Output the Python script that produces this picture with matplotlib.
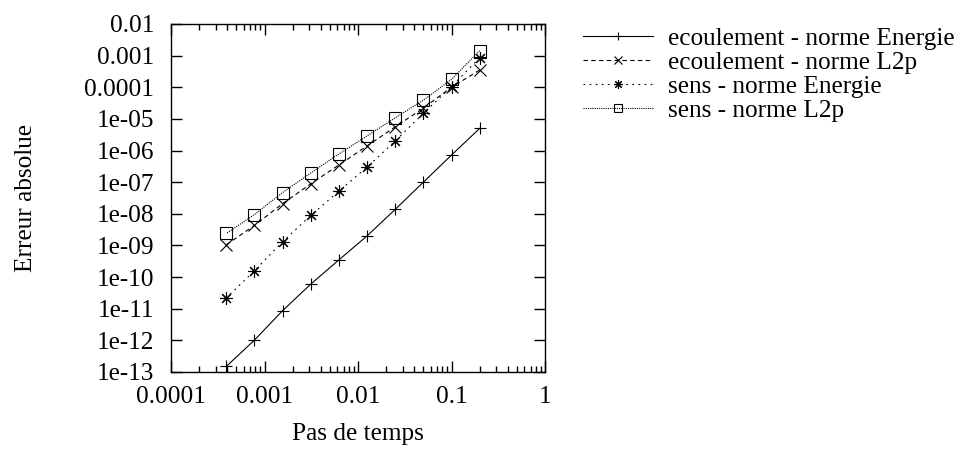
import matplotlib
matplotlib.use('Agg')
import matplotlib.pyplot as plt
from matplotlib.ticker import LogLocator, NullLocator, FixedLocator

# Data
pas = [0.2, 0.1, 0.05, 0.025, 0.0125, 0.00625, 0.003125, 0.0015625,
       0.00078125, 0.000390625]
ecoulement_energie = [5.0e-6, 7.2e-7, 1.0e-7, 1.38e-8, 2.0e-9, 3.5e-10,
                      6.0e-11, 8.7e-12, 1.02e-12, 1.5e-13]
ecoulement_l2p = [3.5e-4, 1.0e-4, 2.2e-5, 5.6e-6, 1.4e-6, 3.5e-7,
                  8.9e-8, 2.1e-8, 4.3e-9, 1.05e-9]
sens_energie = [8.6e-4, 1.05e-4, 1.5e-5, 2.0e-6, 3.0e-7, 5.2e-8,
                8.9e-9, 1.32e-9, 1.6e-10, 2.2e-11]
sens_l2p = [1.43e-3, 1.78e-4, 3.9e-5, 1.08e-5, 2.9e-6, 7.8e-7,
            1.95e-7, 4.7e-8, 9.5e-9, 2.4e-9]

labels = ['ecoulement - norme Energie', 'ecoulement - norme L2p',
          'sens - norme Energie', 'sens - norme L2p']
y_ticks = [10.0 ** e for e in range(-13, -1)]
y_tick_labels = ['1e-13', '1e-12', '1e-11', '1e-10', '1e-09', '1e-08',
                 '1e-07', '1e-06', '1e-05', '0.0001', '0.001', '0.01']
x_ticks = [1e-4, 1e-3, 1e-2, 1e-1, 1]
x_tick_labels = ['0.0001', '0.001', '0.01', '0.1', '1']

plt.rcParams['font.family'] = ['Liberation Serif', 'DejaVu Serif']
plt.rcParams['font.size'] = 18.2

fig = plt.figure(figsize=(9.67, 4.49), dpi=100)
ax = fig.add_axes([171 / 967, 1 - 372 / 449, (545 - 171) / 967, (372 - 24) / 449])

series = [ecoulement_energie, ecoulement_l2p, sens_energie, sens_l2p]
styles = [
    dict(linestyle='-', marker='+', markersize=9),
    dict(linestyle=(0, (4, 3)), marker='x', markersize=8),
    dict(linestyle=(0, (1.5, 4)), marker=(8, 2, 0), markersize=9),
    dict(linestyle=(0, (1, 1)), marker='s', markersize=8, markerfacecolor='none'),
]
for values, label, st in zip(series, labels, styles):
    ax.plot(pas, values, color='black', linewidth=0.8, markeredgewidth=0.8,
            label=label, **st)

ax.set_xscale('log')
ax.set_yscale('log')
ax.set_xlim(1e-4, 1)
ax.set_ylim(1e-13, 1e-2)

ax.xaxis.set_major_locator(FixedLocator(x_ticks))
ax.set_xticklabels(x_tick_labels)
ax.xaxis.set_minor_locator(LogLocator(base=10, subs=range(2, 10), numticks=20))
ax.yaxis.set_major_locator(FixedLocator(y_ticks))
ax.set_yticklabels(y_tick_labels)
ax.yaxis.set_minor_locator(NullLocator())

ax.tick_params(which='both', direction='in', top=True, right=True, width=1)
ax.tick_params(which='major', length=8)
ax.tick_params(which='minor', length=4)
ax.tick_params(axis='x', pad=10)
ax.tick_params(axis='y', pad=12)
for sp in ax.spines.values():
    sp.set_linewidth(1)

ax.set_xlabel('Pas de temps', labelpad=11)
ax.set_ylabel('Erreur absolue', labelpad=34)

ax.legend(loc='upper left', bbox_to_anchor=(583 / 967, 1 - 27 / 449),
          bbox_transform=fig.transFigure, frameon=False, markerscale=0.7,
          handlelength=2.75, handletextpad=0.6, labelspacing=0.06,
          borderaxespad=0, borderpad=0)

fig.savefig('out.png', dpi=100)
